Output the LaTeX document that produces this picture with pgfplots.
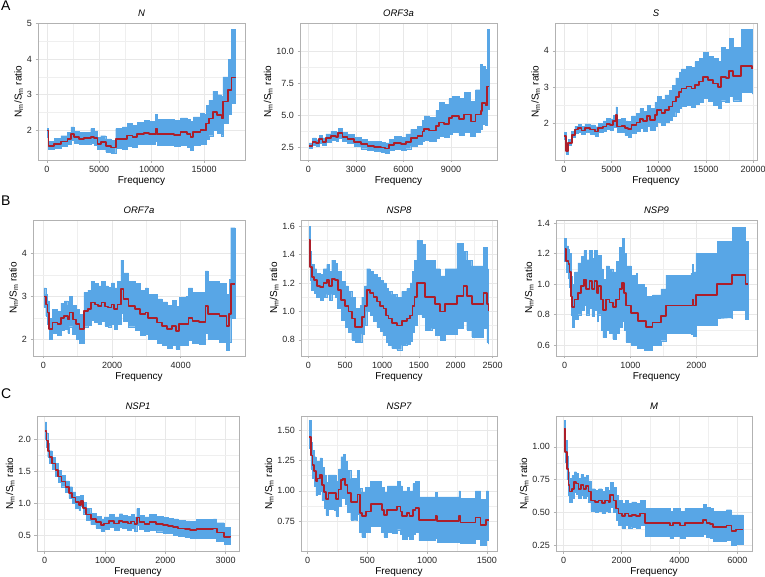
\documentclass[border=0pt]{standalone}
\usepackage{pgfplots}
\pgfplotsset{compat=1.18}
\usepackage{pgfplotstable}
\usepackage{fontspec}
\setmainfont{Liberation Sans}
\definecolor{bandblue}{RGB}{88,166,230}
\definecolor{linered}{RGB}{172,30,42}
\definecolor{gridc}{RGB}{232,232,232}

\pgfplotstableread{
x y lo hi
60 2.00 1.80 2.05
160 1.57 1.48 1.70
700 1.62 1.50 1.78
1330 1.69 1.55 1.85
1970 1.76 1.62 1.95
2290 1.90 1.72 2.10
2600 1.81 1.65 1.98
3080 1.76 1.60 1.95
3560 1.78 1.62 1.95
4190 1.81 1.63 2.05
4510 1.78 1.58 1.98
4830 1.62 1.46 1.80
5140 1.67 1.48 1.85
5620 1.57 1.40 1.76
6100 1.52 1.35 1.72
6570 1.76 1.50 2.05
7210 1.76 1.48 2.10
7680 1.86 1.55 2.20
8160 1.81 1.52 2.15
8630 1.90 1.60 2.22
9270 1.93 1.62 2.28
9750 1.90 1.60 2.25
10380 2.05 1.70 2.45
10540 1.90 1.58 2.30
11490 1.90 1.58 2.30
12130 1.88 1.55 2.28
12760 1.95 1.58 2.35
13400 1.90 1.52 2.30
13710 1.81 1.45 2.25
13970 1.95 1.58 2.38
14670 2.02 1.62 2.48
15050 2.00 1.60 2.45
15210 2.19 1.75 2.70
15460 2.33 1.85 2.85
15840 2.52 2.00 3.10
16250 2.43 1.92 3.00
16670 2.33 1.85 2.95
16790 2.81 2.20 3.50
17300 3.14 2.45 4.00
17620 3.48 2.75 4.83
18000 3.50 2.75 4.83
}\tabN

\pgfplotstableread{
x y lo hi
63 2.63 2.45 2.85
270 2.95 2.70 3.25
480 2.82 2.60 3.10
690 3.13 2.85 3.45
900 2.95 2.70 3.25
1110 3.21 2.90 3.55
1430 3.40 3.05 3.75
1740 3.34 3.00 3.70
1890 3.61 3.25 4.00
2160 3.34 3.00 3.70
2480 3.13 2.80 3.50
2900 2.95 2.60 3.30
3315 2.76 2.40 3.15
3730 2.61 2.25 3.00
4150 2.55 2.18 2.95
4570 2.50 2.12 2.92
4830 2.42 2.02 2.85
5100 2.68 2.25 3.15
5410 2.82 2.35 3.35
5830 2.76 2.30 3.30
6150 2.95 2.40 3.55
6460 3.21 2.60 3.90
6880 3.40 2.75 4.15
7200 3.74 2.95 4.60
7300 3.93 3.05 4.95
7620 3.82 2.95 4.85
8040 4.19 3.20 5.40
8250 4.45 3.40 6.00
8560 4.35 3.30 5.85
8870 4.80 3.55 6.30
9080 4.93 3.65 6.50
9500 4.72 3.45 6.30
9820 5.06 3.70 6.80
10240 4.53 3.40 6.10
10550 5.06 3.70 7.00
10870 5.32 3.90 9.00
10970 5.98 4.30 8.80
11180 5.77 4.25 8.60
11290 7.25 5.50 11.70
11390 7.25 5.50 11.70
}\tabORFthree

\pgfplotstableread{
x y lo hi
35 1.65 1.55 1.75
210 1.22 1.15 1.32
460 1.45 1.38 1.55
810 1.68 1.60 1.78
1160 1.82 1.72 1.92
1510 1.86 1.76 1.97
1860 1.80 1.70 1.92
2215 1.86 1.75 1.98
2740 1.82 1.70 1.95
3270 1.77 1.65 1.90
3620 1.86 1.74 2.00
4150 1.91 1.78 2.06
4500 1.98 1.84 2.14
4850 1.95 1.80 2.12
5200 2.05 1.88 2.22
5485 2.23 2.05 2.45
5625 1.91 1.74 2.10
6080 1.93 1.74 2.13
6430 1.86 1.66 2.06
6790 1.83 1.62 2.05
7140 1.95 1.72 2.20
7665 2.02 1.78 2.28
8020 2.11 1.85 2.40
8370 2.05 1.78 2.33
8790 2.20 1.92 2.50
9070 2.09 1.80 2.40
9600 2.23 1.92 2.58
9845 2.37 2.03 2.75
10300 2.28 1.95 2.65
10650 2.37 2.02 2.78
11110 2.46 2.08 2.90
11460 2.60 2.20 3.05
11810 2.73 2.30 3.25
12165 2.87 2.40 3.40
12410 2.96 2.48 3.50
12940 3.01 2.50 3.58
13470 2.96 2.45 3.55
13820 3.06 2.52 3.70
14275 3.15 2.58 3.80
14700 3.27 2.68 3.95
15225 3.19 2.60 3.85
15750 3.10 2.50 3.80
16280 2.99 2.40 3.70
16630 3.28 2.62 4.10
17090 3.24 2.58 4.05
17440 3.45 2.75 4.35
17860 3.30 2.62 4.10
18565 3.30 2.60 4.10
18740 3.58 2.85 4.60
19550 3.58 2.85 4.60
19900 3.51 2.80 4.50
}\tabS

\pgfplotstableread{
x y lo hi
20 3.00 2.75 3.20
70 2.82 2.55 3.05
120 2.63 2.35 2.90
170 2.24 2.02 2.50
265 2.40 2.15 2.70
410 2.36 2.10 2.65
510 2.51 2.22 2.85
610 2.55 2.25 2.90
710 2.47 2.15 2.80
760 2.63 2.30 3.00
855 2.47 2.12 2.80
955 2.36 2.02 2.70
1050 2.24 1.92 2.58
1180 2.67 2.30 3.10
1300 2.71 2.33 3.15
1395 2.86 2.45 3.35
1495 2.82 2.40 3.30
1590 2.78 2.35 3.25
1690 2.86 2.42 3.35
1790 2.77 2.32 3.25
1890 2.75 2.30 3.22
1985 2.82 2.36 3.32
2065 2.71 2.25 3.20
2160 2.82 2.35 3.35
2260 3.17 2.62 3.85
2330 2.94 2.42 3.55
2480 2.78 2.30 3.35
2670 2.71 2.22 3.30
2820 2.59 2.10 3.15
2970 2.63 2.12 3.20
3050 2.51 2.02 3.05
3165 2.51 2.00 3.05
3310 2.40 1.92 2.95
3460 2.32 1.86 2.88
3610 2.24 1.80 2.80
3755 2.32 1.86 2.92
3855 2.20 1.78 2.78
3950 2.36 1.88 2.98
4150 2.36 1.86 3.00
4225 2.51 1.98 3.20
4345 2.44 1.92 3.10
4540 2.41 1.90 3.10
4720 2.78 2.15 3.60
4790 2.59 2.00 3.35
5130 2.55 1.95 3.30
5330 2.32 1.75 3.05
5405 2.59 1.95 3.40
5455 3.29 2.50 4.60
5585 3.29 2.50 4.60
}\tabORFseven

\pgfplotstableread{
x y lo hi
10 1.50 1.40 1.60
23 1.31 1.22 1.42
45 1.24 1.15 1.33
81 1.22 1.13 1.30
113 1.18 1.10 1.27
158 1.17 1.08 1.26
204 1.20 1.10 1.30
249 1.22 1.12 1.33
281 1.18 1.08 1.28
317 1.23 1.12 1.36
362 1.22 1.10 1.34
398 1.15 1.02 1.28
443 1.08 0.94 1.21
498 1.04 0.89 1.18
543 1.00 0.85 1.14
588 0.95 0.80 1.10
634 0.89 0.78 1.02
701 0.89 0.78 1.04
724 0.96 0.84 1.10
760 1.04 0.90 1.18
792 1.15 1.00 1.30
837 1.13 0.97 1.28
882 1.10 0.93 1.26
928 1.07 0.89 1.24
973 1.04 0.86 1.22
1018 1.02 0.83 1.20
1054 0.97 0.78 1.16
1086 0.95 0.76 1.14
1131 0.92 0.74 1.12
1199 0.90 0.73 1.10
1267 0.93 0.76 1.14
1335 0.95 0.77 1.16
1380 0.97 0.79 1.20
1412 1.04 0.85 1.28
1439 1.10 0.90 1.36
1471 1.20 0.98 1.50
1539 1.20 0.96 1.47
1584 1.10 0.87 1.36
1674 1.10 0.88 1.36
1720 1.05 0.83 1.30
1787 1.00 0.80 1.25
1855 1.05 0.84 1.30
1991 1.05 0.84 1.30
2014 1.11 0.88 1.48
2104 1.18 0.93 1.42
2149 1.11 0.87 1.36
2217 1.05 0.82 1.32
2308 1.05 0.82 1.32
2376 1.13 0.88 1.45
2421 1.05 0.78 1.30
2444 1.00 0.77 1.30
}\tabNSPeight

\pgfplotstableread{
x y lo hi
0 1.23 1.15 1.30
25 1.15 1.08 1.25
60 1.13 1.04 1.23
76 1.08 0.98 1.20
101 0.92 0.80 1.05
116 0.85 0.72 1.00
151 0.90 0.77 1.08
202 0.94 0.80 1.14
252 0.99 0.83 1.18
292 1.03 0.86 1.22
328 0.97 0.80 1.16
378 1.02 0.84 1.22
413 0.97 0.79 1.17
454 1.02 0.83 1.22
494 0.94 0.76 1.14
514 0.99 0.80 1.19
554 0.90 0.70 1.10
580 0.83 0.65 1.03
630 0.90 0.70 1.12
680 0.88 0.68 1.10
731 0.85 0.64 1.08
781 0.90 0.68 1.15
832 0.97 0.72 1.24
872 1.01 0.76 1.30
907 0.94 0.70 1.20
932 0.86 0.62 1.12
1008 0.81 0.60 1.06
1084 0.81 0.60 1.07
1109 0.76 0.58 1.00
1210 0.76 0.57 0.98
1235 0.72 0.57 0.92
1310 0.72 0.57 0.90
1336 0.75 0.60 0.93
1411 0.75 0.60 0.93
1462 0.79 0.63 0.97
1537 0.86 0.68 1.06
1915 0.86 0.67 1.07
1940 0.90 0.70 1.13
1956 0.86 0.66 1.08
1991 0.93 0.73 1.20
2293 0.93 0.73 1.20
2318 1.00 0.78 1.28
2520 1.00 0.78 1.28
2545 1.06 0.83 1.37
2722 1.06 0.83 1.37
2747 1.00 0.77 1.28
2782 1.00 0.77 1.28
}\tabNSPnine

\pgfplotstableread{
x y lo hi
10 2.13 2.00 2.27
28 1.98 1.88 2.10
50 1.82 1.72 1.93
78 1.72 1.62 1.82
123 1.62 1.53 1.72
178 1.52 1.43 1.62
223 1.42 1.33 1.52
278 1.34 1.26 1.44
345 1.26 1.17 1.35
401 1.16 1.08 1.26
457 1.09 1.00 1.18
512 1.02 0.93 1.11
568 0.98 0.89 1.07
596 1.04 0.95 1.13
635 0.93 0.84 1.02
690 0.83 0.74 0.92
763 0.76 0.67 0.85
847 0.71 0.62 0.80
930 0.66 0.57 0.76
986 0.69 0.60 0.79
1069 0.73 0.63 0.83
1153 0.69 0.59 0.79
1237 0.73 0.63 0.84
1292 0.71 0.61 0.81
1376 0.69 0.59 0.80
1431 0.72 0.61 0.83
1487 0.68 0.57 0.79
1526 0.78 0.66 0.92
1571 0.71 0.60 0.82
1654 0.68 0.57 0.79
1738 0.71 0.59 0.83
1849 0.68 0.56 0.80
1961 0.66 0.54 0.78
2044 0.65 0.53 0.77
2128 0.63 0.51 0.76
2211 0.61 0.49 0.74
2323 0.60 0.47 0.73
2406 0.59 0.46 0.72
2518 0.60 0.46 0.75
2685 0.60 0.46 0.75
2796 0.61 0.46 0.76
2852 0.55 0.41 0.70
2935 0.55 0.41 0.70
2974 0.48 0.36 0.63
3075 0.49 0.37 0.63
}\tabNSPone

\pgfplotstableread{
x y lo hi
14 1.44 1.35 1.58
28 1.29 1.18 1.40
42 1.21 1.10 1.33
56 1.16 1.04 1.28
70 1.08 0.96 1.21
83 1.10 0.97 1.24
103 1.13 1.00 1.27
120 1.05 0.92 1.19
139 0.99 0.86 1.13
153 0.93 0.80 1.07
175 0.98 0.85 1.13
222 0.98 0.84 1.13
236 0.93 0.79 1.08
259 1.01 0.87 1.18
278 1.09 0.94 1.28
297 1.10 0.94 1.30
314 1.05 0.89 1.24
334 0.98 0.82 1.17
361 0.91 0.76 1.10
403 0.91 0.76 1.10
417 0.97 0.81 1.17
436 0.82 0.66 1.02
453 0.79 0.62 0.99
486 0.83 0.66 1.03
528 0.89 0.71 1.08
598 0.89 0.71 1.08
620 0.84 0.66 1.03
639 0.80 0.62 0.99
667 0.84 0.66 1.04
709 0.84 0.65 1.04
751 0.87 0.68 1.08
778 0.83 0.64 1.04
792 0.79 0.60 1.00
834 0.82 0.63 1.03
853 0.79 0.60 1.00
881 0.84 0.64 1.06
904 0.86 0.66 1.08
931 0.76 0.59 0.95
1056 0.76 0.59 0.95
1070 0.79 0.61 0.99
1084 0.75 0.58 0.95
1251 0.75 0.58 0.95
1265 0.79 0.61 1.00
1279 0.74 0.57 0.94
1390 0.74 0.57 0.94
1404 0.78 0.60 1.00
1437 0.78 0.60 1.00
1448 0.72 0.55 0.93
1482 0.72 0.55 0.93
1493 0.76 0.59 1.00
1515 0.76 0.59 1.00
}\tabNSPseven

\pgfplotstableread{
x y lo hi
23 1.14 1.06 1.20
57 0.96 0.88 1.05
115 0.83 0.75 0.93
172 0.71 0.63 0.81
206 0.66 0.58 0.76
287 0.68 0.61 0.78
367 0.73 0.65 0.81
436 0.72 0.64 0.80
516 0.68 0.61 0.76
596 0.71 0.63 0.79
688 0.68 0.61 0.77
780 0.70 0.62 0.78
860 0.66 0.58 0.74
941 0.59 0.51 0.68
1090 0.58 0.50 0.67
1204 0.59 0.51 0.68
1319 0.57 0.49 0.66
1434 0.59 0.51 0.69
1548 0.58 0.50 0.67
1606 0.63 0.54 0.73
1720 0.59 0.50 0.69
1812 0.53 0.44 0.63
1893 0.49 0.40 0.59
2007 0.47 0.38 0.57
2122 0.49 0.40 0.59
2237 0.47 0.38 0.57
2351 0.48 0.39 0.58
2500 0.47 0.38 0.57
2638 0.49 0.40 0.59
2753 0.49 0.40 0.59
2810 0.42 0.32 0.53
3212 0.42 0.32 0.53
3613 0.42 0.32 0.53
3670 0.40 0.30 0.51
3785 0.42 0.32 0.53
4015 0.40 0.30 0.51
4187 0.42 0.32 0.53
4531 0.42 0.32 0.53
4817 0.44 0.33 0.56
4932 0.42 0.31 0.54
5047 0.41 0.30 0.53
5162 0.39 0.28 0.51
5506 0.39 0.28 0.51
5620 0.40 0.29 0.52
5792 0.36 0.25 0.48
5964 0.37 0.26 0.48
6194 0.37 0.26 0.48
}\tabM

\pgfplotsset{
 panel/.style={
  scale only axis,
  axis line style={draw=gray!60, line width=0.6pt},
  grid=both,
  major grid style={draw=gridc, line width=0.6pt},
  minor grid style={draw=gridc!70, line width=0.35pt},
  minor tick num=1,
  tick align=outside,
  major tick length=2.5pt,
  minor tick length=0pt,
  tick style={draw=gray!60, line width=0.5pt},
  tick pos=left,
  scaled ticks=false,
  /pgf/number format/assume math mode=true,
  /pgf/number format/1000 sep={},
  ticklabel style={font=\fontsize{9}{10}\selectfont, text=black!85},
  title style={font=\fontsize{9.5}{11}\selectfont\itshape, yshift=-3pt},
  xlabel={Frequency},
  ylabel={N\textsubscript{m}/S\textsubscript{m} ratio},
  label style={font=\fontsize{10}{12}\selectfont},
  xlabel style={yshift=3pt},
  ylabel style={yshift=-3pt},
  anchor=north west,
 },
 fix1/.style={yticklabel style={/pgf/number format/.cd, fixed, fixed zerofill, precision=1}},
 fix2/.style={yticklabel style={/pgf/number format/.cd, fixed, fixed zerofill, precision=2}},
}

% band: lower edge stacked, then the band's height on top of it (area between the two step lines)
\newcommand{\drawpanel}[1]{%
  \addplot[draw=none, const plot, stack plots=y, forget plot] table[x=x, y=lo]{#1};
  \addplot[fill=bandblue, draw=bandblue, line width=0.4pt, const plot, stack plots=y, forget plot] table[x=x, y expr=\thisrow{hi}-\thisrow{lo}]{#1} \closedcycle;
  \addplot[linered, line width=1.7pt, const plot, no marks, line join=round, stack plots=false] table[x=x, y=y]{#1};
}

\begin{document}
\begin{tikzpicture}

\node[anchor=north west, font=\fontsize{14}{14}\selectfont, inner sep=0pt] at (1pt,-1pt) {A};
\node[anchor=north west, font=\fontsize{14}{14}\selectfont, inner sep=0pt] at (1pt,-196pt) {B};
\node[anchor=north west, font=\fontsize{14}{14}\selectfont, inner sep=0pt] at (1pt,-389pt) {C};

% Row A
\begin{axis}[panel, at={(38pt,-23pt)}, width=207pt, height=137pt, title={N},
  xmin=-840, xmax=18900, ymin=1.17, ymax=5.01,
  xtick={0,5000,10000,15000}, ytick={2,3,4,5}]
\drawpanel{\tabN}
\end{axis}

\begin{axis}[panel, at={(300pt,-23pt)}, width=197pt, height=137pt, title={ORF3a},
  xmin=-520, xmax=11900, ymin=1.52, ymax=12.2,
  xtick={0,3000,6000,9000}, ytick={2.5,5,7.5,10}, fix1]
\drawpanel{\tabORFthree}
\end{axis}

\begin{axis}[panel, at={(555pt,-23pt)}, width=202pt, height=137pt, title={S},
  xmin=-950, xmax=20400, ymin=0.98, ymax=4.77,
  xtick={0,5000,10000,15000,20000}, ytick={2,3,4}]
\drawpanel{\tabS}
\end{axis}

% Row B
\begin{axis}[panel, at={(33pt,-220pt)}, width=212pt, height=136pt, title={ORF7a},
  xmin=-300, xmax=5870, ymin=1.62, ymax=4.78,
  xtick={0,2000,4000}, ytick={2,3,4}]
\drawpanel{\tabORFseven}
\end{axis}

\begin{axis}[panel, at={(301pt,-220pt)}, width=196pt, height=136pt, title={NSP8},
  xmin=-100, xmax=2560, ymin=0.686, ymax=1.643,
  xtick={0,500,1000,1500,2000,2500}, ytick={0.8,1,1.2,1.4,1.6}, fix1]
\drawpanel{\tabNSPeight}
\end{axis}

\begin{axis}[panel, at={(556pt,-220pt)}, width=201pt, height=136pt, title={NSP9},
  xmin=-130, xmax=2920, ymin=0.53, ymax=1.42,
  xtick={0,1000,2000}, ytick={0.6,0.8,1,1.2,1.4}, fix1]
\drawpanel{\tabNSPnine}
\end{axis}

% Row C
\begin{axis}[panel, at={(37pt,-416pt)}, width=202pt, height=135pt, title={NSP1},
  xmin=-128, xmax=3222, ymin=0.26, ymax=2.36,
  xtick={0,1000,2000,3000}, ytick={0.5,1,1.5,2}, fix1]
\drawpanel{\tabNSPone}
\end{axis}

\begin{axis}[panel, at={(301pt,-416pt)}, width=196pt, height=135pt, title={NSP7},
  xmin=-55, xmax=1585, ymin=0.505, ymax=1.615,
  xtick={0,500,1000,1500}, ytick={0.75,1,1.25,1.5}, fix2]
\drawpanel{\tabNSPseven}
\end{axis}

\begin{axis}[panel, at={(556pt,-416pt)}, width=196pt, height=135pt, title={M},
  xmin=-264, xmax=6505, ymin=0.205, ymax=1.235,
  xtick={0,2000,4000,6000}, ytick={0.25,0.5,0.75,1}, fix2]
\drawpanel{\tabM}
\end{axis}

\pgfresetboundingbox
\path[use as bounding box] (0pt,0pt) rectangle (765pt,-577pt);
\end{tikzpicture}
\end{document}
